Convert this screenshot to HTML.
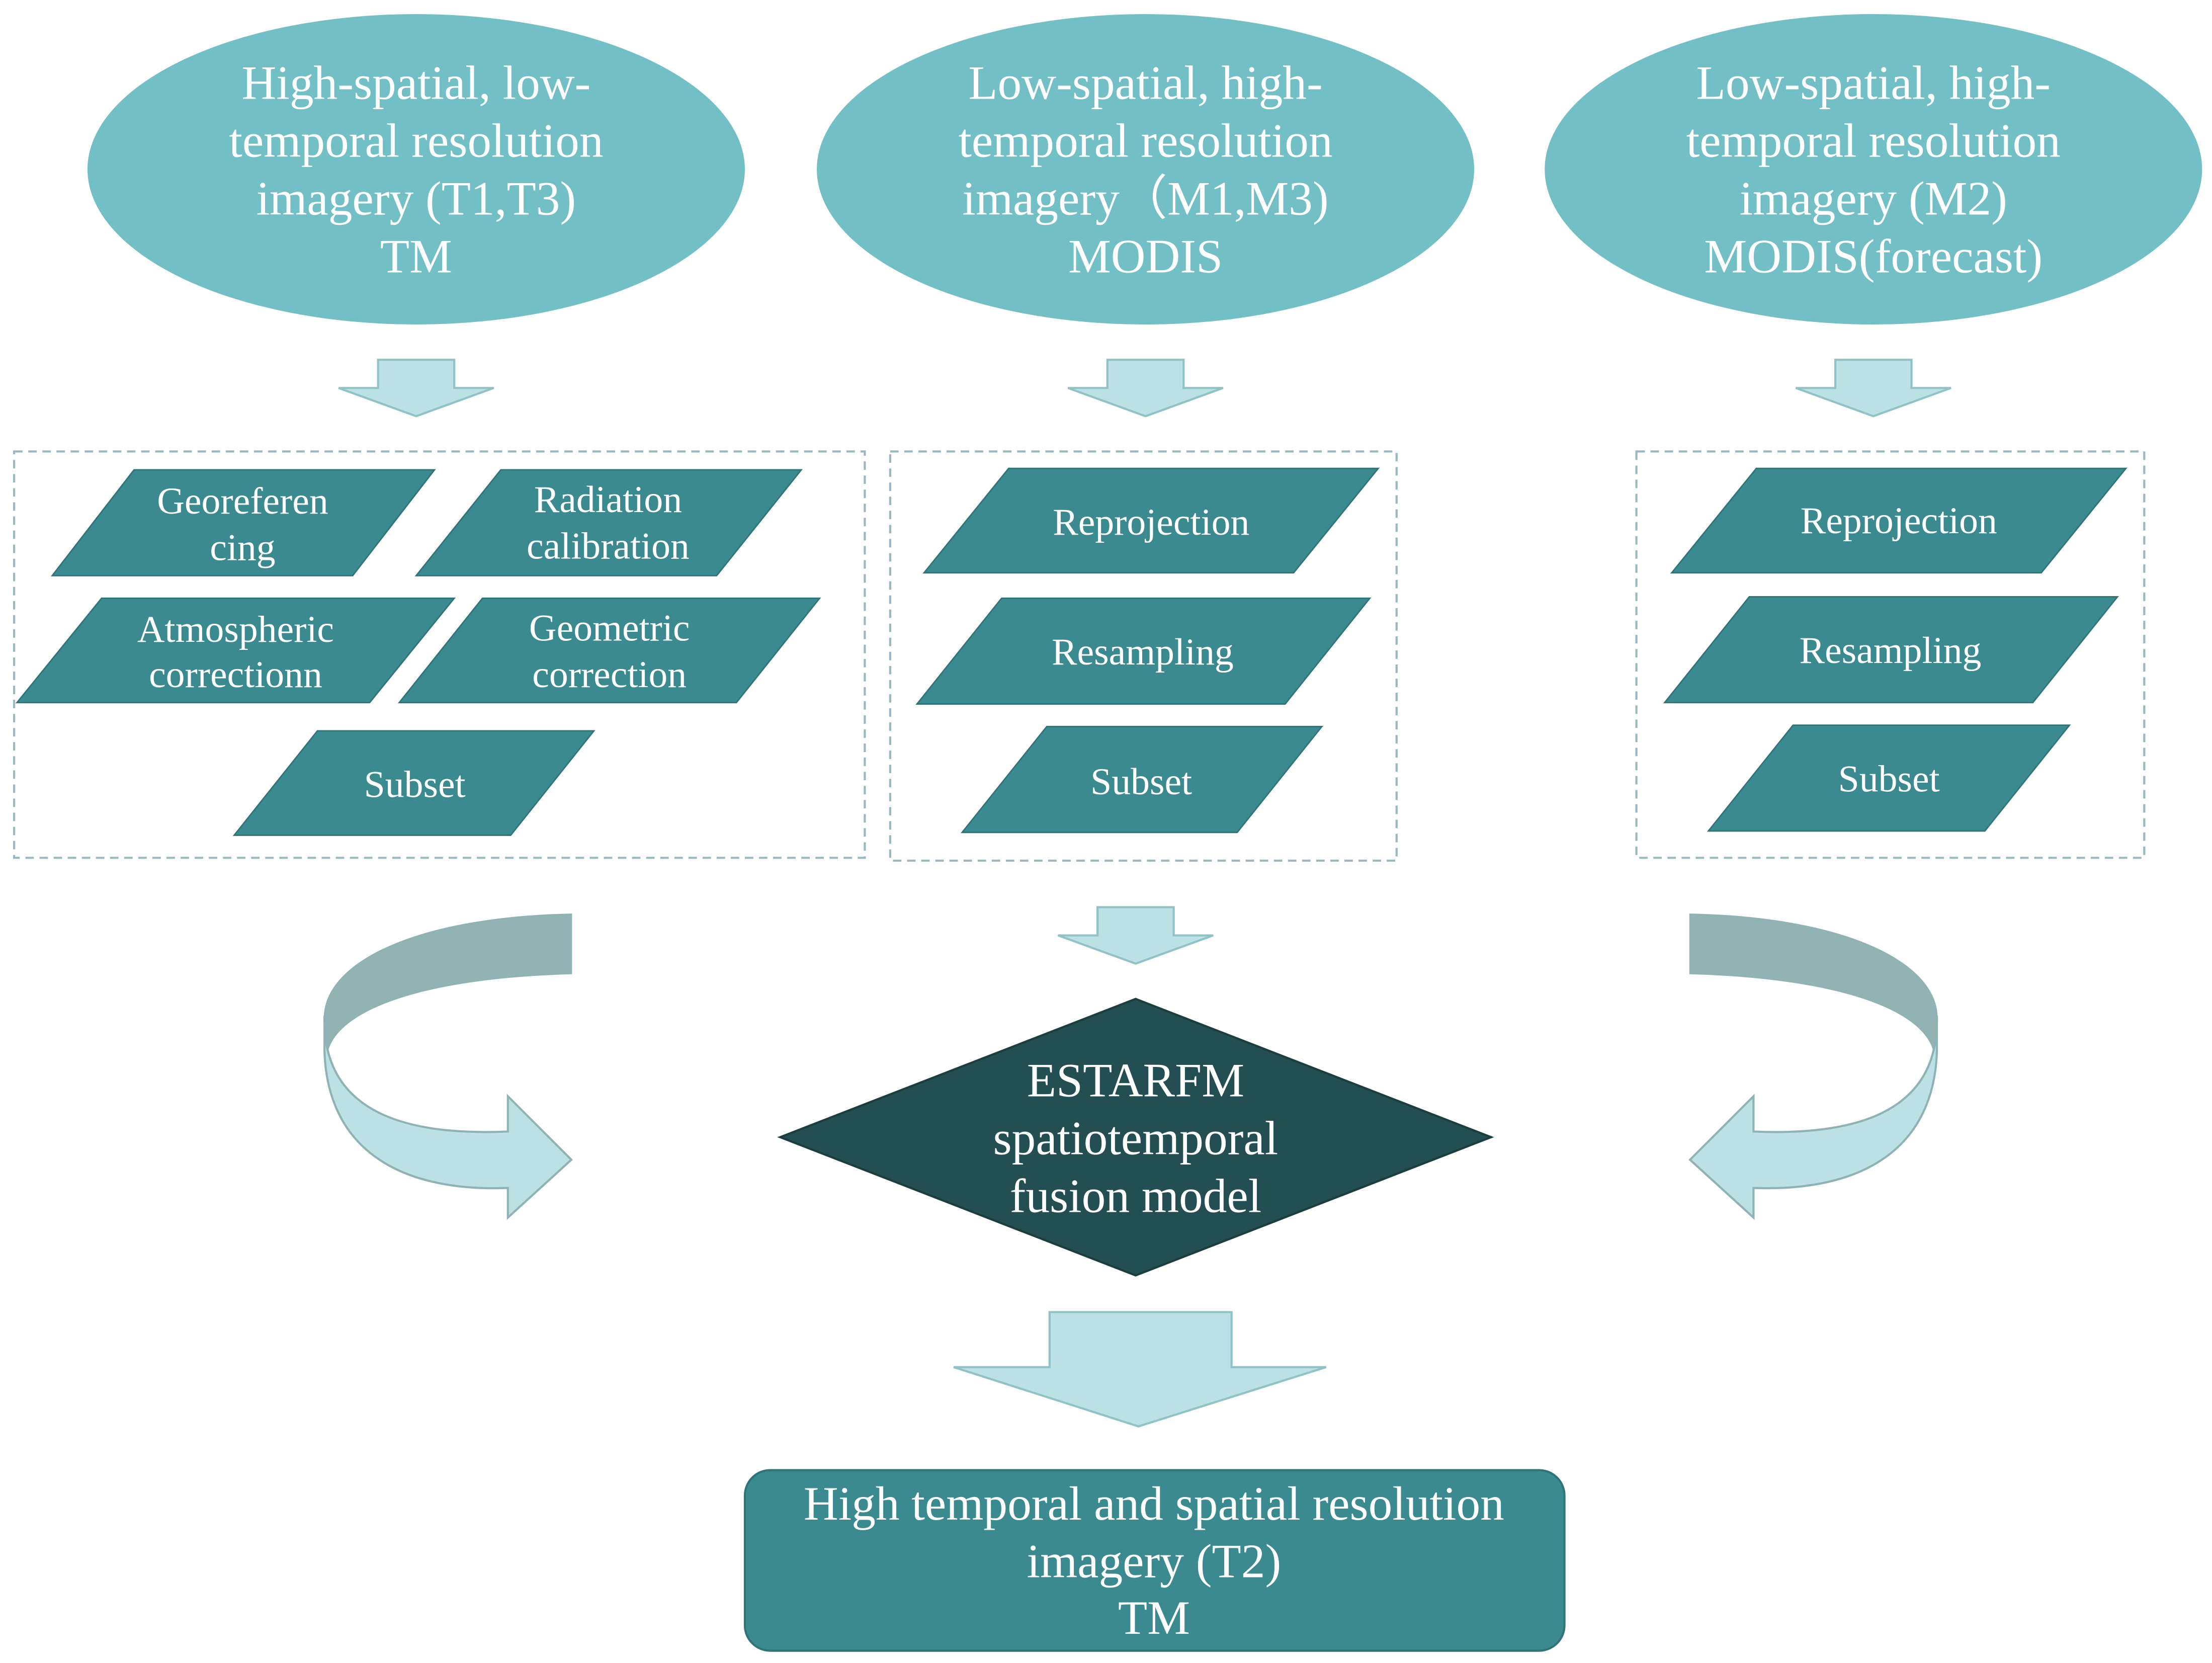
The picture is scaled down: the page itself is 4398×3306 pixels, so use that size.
<!DOCTYPE html>
<html><head><meta charset="utf-8"><style>
html,body{margin:0;padding:0;background:#fff;}
svg{display:block;}
text{font-family:"Liberation Serif",serif;fill:#fff;text-anchor:middle;}
</style></head><body>
<svg width="4398" height="3306" viewBox="0 0 1568 1178.7" xmlns="http://www.w3.org/2000/svg">
<defs>
<g id="darr"><path d="M-27,0 H27 V20 H55 L0,40 L-55,20 H-27 Z" fill="#bbe1e4" stroke="#8fc3c8" stroke-width="1.5"/></g>
<g id="curve">
<path d="M230,720 C228,790 290,805 360,802 L360,777 L405,822 L360,863 L360,842 C280,845 232,812 230,745 Z" fill="#bbe1e4" stroke="#8fb3b5" stroke-width="1.5"/>
<path d="M405,648 L405,690 C300,693 240,715 232,745 L230,720 C232,680 300,650 405,648 Z" fill="#93b2b3" stroke="#8fb3b5" stroke-width="1"/>
</g>
</defs>
<g fill="#72bfc5">
<ellipse cx="295" cy="120" rx="233" ry="110"/>
<ellipse cx="812" cy="120" rx="233" ry="110"/>
<ellipse cx="1328" cy="120" rx="233" ry="110"/>
</g>
<g font-size="34">
<text x="295" y="70">High-spatial, low-</text><text x="295" y="111">temporal resolution</text><text x="295" y="152">imagery (T1,T3)</text><text x="295" y="193">TM</text>
<text x="812" y="70">Low-spatial, high-</text><text x="812" y="111">temporal resolution</text><text x="812" y="152">imagery（M1,M3)</text><text x="812" y="193">MODIS</text>
<text x="1328" y="70">Low-spatial, high-</text><text x="1328" y="111">temporal resolution</text><text x="1328" y="152">imagery (M2)</text><text x="1328" y="193">MODIS(forecast)</text>
</g>
<use href="#darr" x="295" y="255"/>
<use href="#darr" x="812" y="255"/>
<use href="#darr" x="1328" y="255"/>
<g fill="none" stroke="#9ab8bf" stroke-width="1.5" stroke-dasharray="6,4">
<rect x="10" y="320" width="603" height="288"/>
<rect x="631" y="320" width="359" height="290"/>
<rect x="1160" y="320" width="360" height="288"/>
</g>
<g fill="#3a8a8f" stroke="#2f7479" stroke-width="1">
<polygon points="37,408 95,333 308,333 250,408"/>
<polygon points="295,408 355,333 568,333 508,408"/>
<polygon points="12,498 72,424 322,424 262,498"/>
<polygon points="283,498 342,424 581,424 522,498"/>
<polygon points="166,592 225,518 421,518 362,592"/>
<polygon points="655,406 715,332 977,332 917,406"/>
<polygon points="650,499 710,424 971,424 911,499"/>
<polygon points="682,590 742,515 937,515 877,590"/>
<polygon points="1185,406 1245,332 1507,332 1447,406"/>
<polygon points="1180,498 1240,423 1501,423 1441,498"/>
<polygon points="1211,589 1271,514 1467,514 1407,589"/>
</g>
<g font-size="27">
<text x="172" y="364">Georeferen</text><text x="172" y="397">cing</text>
<text x="431" y="363">Radiation</text><text x="431" y="396">calibration</text>
<text x="167" y="455">Atmospheric</text><text x="167" y="487">correctionn</text>
<text x="432" y="454">Geometric</text><text x="432" y="487">correction</text>
<text x="294" y="565">Subset</text>
<text x="816" y="379">Reprojection</text>
<text x="810" y="471">Resampling</text>
<text x="809" y="563">Subset</text>
<text x="1346" y="378">Reprojection</text>
<text x="1340" y="470">Resampling</text>
<text x="1339" y="561">Subset</text>
</g>
<use href="#darr" x="805" y="643"/>
<use href="#curve"/>
<use href="#curve" transform="translate(1603,0) scale(-1,1)"/>
<polygon points="553,806 805,708 1057,806 805,904" fill="#234e52" stroke="#1b3e41" stroke-width="1.5"/>
<g font-size="34">
<text x="805" y="777">ESTARFM</text><text x="805" y="818">spatiotemporal</text><text x="805" y="859">fusion model</text>
</g>
<path d="M744,930 H873 V969 H940 L807,1011 L676,969 H744 Z" fill="#bbe1e4" stroke="#8fc3c8" stroke-width="1.5"/>
<rect x="528" y="1042" width="581" height="128" rx="18" fill="#3a8a8f" stroke="#2f7479" stroke-width="1.5"/>
<g font-size="34">
<text x="818" y="1077">High temporal and spatial resolution</text><text x="818" y="1118">imagery (T2)</text><text x="818" y="1158">TM</text>
</g>
</svg>
</body></html>
